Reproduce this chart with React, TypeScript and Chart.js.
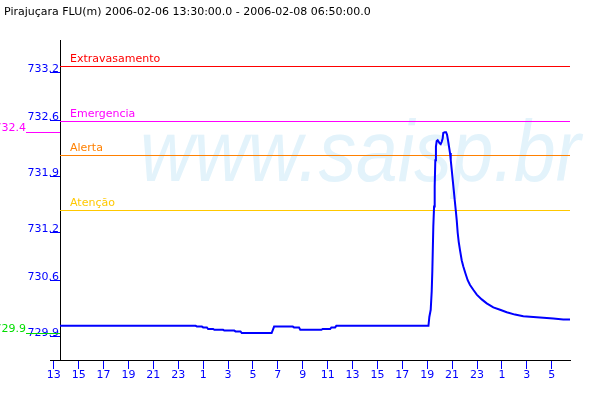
import React, { useEffect, useRef } from 'react';
import { Chart, registerables } from 'chart.js';

Chart.register(...registerables);

const TITLE = 'Pirajuçara FLU(m) 2006-02-06 13:30:00.0 - 2006-02-08 06:50:00.0';
const WATERMARK = 'www.saisp.br';

// time in hours since 2006-02-06 00:00
const hours = [
  13.5, 24.4, 24.5, 24.9, 25.0, 25.3, 25.4, 25.8, 25.9, 26.6, 26.7, 27.5, 27.6, 28.0, 28.1,
  30.5, 30.6, 30.7, 32.2, 32.3, 32.7, 32.8, 34.5, 34.6, 35.2, 35.3, 35.6, 35.7, 43.0, 43.1,
  43.17, 43.28, 43.36, 43.41, 43.49, 43.55, 43.6, 43.65, 43.7, 43.76, 43.84, 43.92, 44.0,
  44.08, 44.16, 44.24, 44.29, 44.41, 44.51, 44.59, 44.67, 44.75, 44.83, 44.89, 44.97, 45.05,
  45.13, 45.21, 45.29, 45.37, 45.45, 45.53, 45.63, 45.77, 45.9, 46.06, 46.25, 46.44, 46.7,
  46.98, 47.38, 47.78, 48.31, 48.85, 49.39, 50.05, 50.72, 51.52, 52.33, 53.13, 53.93, 54.47,
];
// water level (m)
const levels = [
  730.04, 730.04, 730.03, 730.03, 730.02, 730.02, 730.0, 730.0, 729.99, 729.99, 729.98, 729.98, 729.97, 729.97, 729.95,
  729.95, 729.99, 730.03, 730.03, 730.02, 730.02, 729.99, 729.99, 730.0, 730.0, 730.02, 730.02, 730.04, 730.04, 730.04,
  730.15, 730.24, 730.47, 730.72, 731.28, 731.53, 731.78, 732.11, 732.28, 732.35, 732.36, 732.34, 732.32,
  732.31, 732.34, 732.38, 732.45, 732.46, 732.46, 732.43, 732.36, 732.28, 732.2, 732.11, 731.99, 731.86,
  731.74, 731.61, 731.49, 731.36, 731.2, 731.09, 730.99, 730.86, 730.78, 730.7, 730.61, 730.55, 730.49,
  730.43, 730.37, 730.32, 730.27, 730.24, 730.21, 730.18, 730.16, 730.15, 730.14, 730.13, 730.12, 730.12,
];

const xTickHours = [13, 15, 17, 19, 21, 23, 25, 27, 29, 31, 33, 35, 37, 39, 41, 43, 45, 47, 49, 51, 53];
const yTickValues = [729.9, 730.6, 731.2, 731.9, 732.6, 733.2];

const thresholdNames = ['Extravasamento', 'Emergencia', 'Alerta', 'Atenção'];
const thresholdLevels = [733.29, 732.6, 732.18, 731.49];
const thresholdColors = ['#ff0000', '#ff00ff', '#ff8000', '#ffc800'];

const X_MIN = 13.5;
const X_MAX = 54.47;
const Y_MIN = 729.6125;
const Y_MAX = 733.6125;

const FONT = '"DejaVu Sans"';

const decorations = {
  id: 'decorations',
  beforeDraw(chart: any) {
    const ctx = chart.ctx;
    ctx.save();
    ctx.fillStyle = '#e3f3fb';
    ctx.font = 'italic 88px "Liberation Sans"';
    ctx.textBaseline = 'alphabetic';
    ctx.translate(140, 181);
    ctx.scale(0.85, 1);
    ctx.fillText(WATERMARK, 0, 0);
    ctx.restore();

    ctx.save();
    ctx.fillStyle = '#000000';
    ctx.font = '11px ' + FONT;
    ctx.textBaseline = 'alphabetic';
    ctx.textAlign = 'left';
    ctx.fillText(TITLE, 4, 15);
    ctx.restore();
  },
  beforeDatasetsDraw(chart: any) {
    const ctx = chart.ctx;
    const ys = chart.scales.y;
    const { left, right } = chart.chartArea;
    ctx.save();
    ctx.lineWidth = 1;
    ctx.font = '11px ' + FONT;
    ctx.textAlign = 'left';
    ctx.textBaseline = 'alphabetic';
    thresholdLevels.forEach((v, i) => {
      const py = Math.round(ys.getPixelForValue(v)) + 0.5;
      ctx.strokeStyle = thresholdColors[i];
      ctx.beginPath();
      ctx.moveTo(left, py);
      ctx.lineTo(right, py);
      ctx.stroke();
      ctx.fillStyle = thresholdColors[i];
      ctx.fillText(thresholdNames[i], left + 10, py - 4.5);
    });
    ctx.restore();
  },
  afterDraw(chart: any) {
    const ctx = chart.ctx;
    const ys = chart.scales.y;
    const xs = chart.scales.x;
    const axisX = ys.right;
    const tickLen = ys.options.grid.tickLength;
    ctx.save();
    // x axis line continues under the y tick marks
    ctx.strokeStyle = '#000000';
    ctx.lineWidth = 1;
    const ay = Math.round(xs.top) + 0.5;
    ctx.beginPath();
    ctx.moveTo(axisX - tickLen, ay);
    ctx.lineTo(axisX, ay);
    ctx.stroke();

    // max / min markers
    const maxV = Math.max(...levels);
    const minV = Math.min(...levels);
    const marks = [
      { v: maxV, color: '#ff00ff' },
      { v: minV, color: '#00dd00' },
    ];
    ctx.font = '11px ' + FONT;
    ctx.textAlign = 'right';
    ctx.textBaseline = 'alphabetic';
    marks.forEach((m) => {
      const py = Math.round(ys.getPixelForValue(m.v)) + 0.5;
      ctx.strokeStyle = m.color;
      ctx.beginPath();
      ctx.moveTo(axisX - 34, py);
      ctx.lineTo(axisX, py);
      ctx.stroke();
      ctx.fillStyle = m.color;
      ctx.fillText((Math.floor(m.v * 10) / 10).toFixed(1), axisX - 34, py - 1.5);
    });
    ctx.restore();
  },
};

export default function App() {
  const ref = useRef<HTMLCanvasElement | null>(null);
  useEffect(() => {
    if (!ref.current) return;
    Chart.defaults.font.family = FONT;
    Chart.defaults.font.size = 11;
    const chart = new Chart(ref.current, {
      type: 'line',
      data: {
        datasets: [
          {
            label: 'Pirajuçara FLU(m)',
            data: hours.map((h, i) => ({ x: h, y: levels[i] })),
            borderColor: '#0000ff',
            borderWidth: 2,
            pointRadius: 0,
            tension: 0,
            fill: false,
          },
        ],
      },
      options: {
        responsive: false,
        animation: false,
        devicePixelRatio: 1,
        layout: { padding: { top: 40, right: 30, left: 0, bottom: 0 } },
        plugins: { legend: { display: false }, tooltip: { enabled: false }, title: { display: false } },
        scales: {
          x: {
            type: 'linear',
            min: X_MIN,
            max: X_MAX,
            afterBuildTicks: (s: any) => {
              s.ticks = xTickHours.map((v) => ({ value: v }));
            },
            afterFit: (s: any) => {
              s.height = 40;
            },
            ticks: {
              color: '#0000ff',
              autoSkip: false,
              maxRotation: 0,
              minRotation: 0,
              padding: 0,
              font: { family: FONT, size: 11 },
              callback: (v: any) => String(Number(v) % 24),
            },
            grid: { drawOnChartArea: false, drawTicks: true, tickLength: 9, color: '#0000ff', lineWidth: 1 },
            border: { color: '#000000', width: 1 },
          },
          y: {
            type: 'linear',
            min: Y_MIN,
            max: Y_MAX,
            afterBuildTicks: (s: any) => {
              s.ticks = yTickValues.map((v) => ({ value: v }));
            },
            afterFit: (s: any) => {
              s.width = 60;
            },
            ticks: {
              color: '#0000ff',
              autoSkip: false,
              padding: -9,
              labelOffset: -4,
              font: { family: FONT, size: 11 },
              callback: (v: any) => Number(v).toFixed(1),
            },
            grid: { drawOnChartArea: false, drawTicks: true, tickLength: 10, color: '#0000ff', lineWidth: 1 },
            border: { color: '#000000', width: 1 },
          },
        },
      },
      plugins: [decorations],
    });
    return () => chart.destroy();
  }, []);

  return (
    <div style={{ position: 'fixed', left: 0, top: 0, width: 600, height: 400, background: '#ffffff' }}>
      <canvas ref={ref} width={600} height={400} style={{ display: 'block', width: 600, height: 400 }} />
    </div>
  );
}
